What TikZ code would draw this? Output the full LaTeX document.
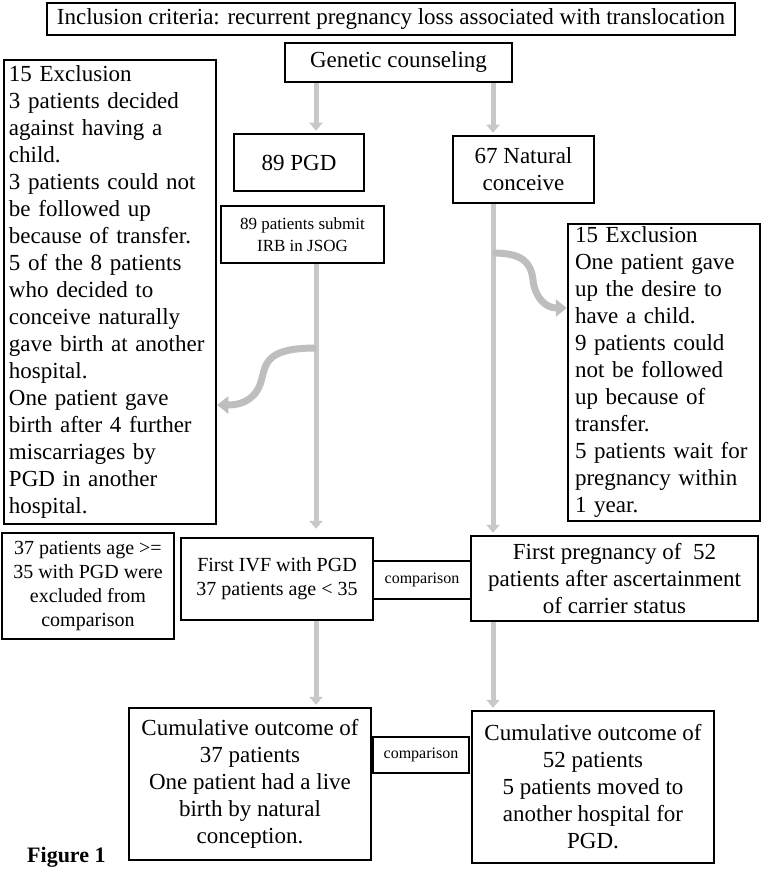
\documentclass[tikz,border=0pt]{standalone}
\usepackage{fontspec}
\setmainfont{Liberation Serif}
\usetikzlibrary{arrows.meta,positioning}
\definecolor{arrowgray}{RGB}{200,200,200}

\begin{document}
\begin{tikzpicture}[x=1pt, y=-1pt]
\tikzset{
    mybox/.style={rectangle, draw=black, line width=2.5pt, inner sep=0pt, align=center, font=\fontsize{23}{27}\selectfont},
    midbox/.style={mybox, font=\fontsize{20}{24}\selectfont},
    compbox/.style={mybox, font=\fontsize{16}{19}\selectfont},
    exclbox/.style={mybox, align=left, inner xsep=5pt},
    grayarrow/.style={draw=arrowgray, line width=5pt, -{Triangle[width=13pt,length=8pt]}, shorten >=2pt},
    curvearrow/.style={draw=arrowgray!95!black, line width=7pt, -{Triangle[width=17pt,length=11pt]}}
}
\useasboundingbox (0,0) rectangle (764,869);

\node[mybox, minimum width=688, minimum height=32] (inclusion) at (391,19) {Inclusion criteria: recurrent pregnancy loss associated with translocation};
\node[mybox, minimum width=227, minimum height=39] (counseling) at (398.5,62.5) {Genetic counseling};
\node[exclbox, text width=202, minimum height=464] (exclPGD) at (110,292) {15 Exclusion\\3 patients decided\\against having a\\child.\\3 patients could not\\be followed up\\because of transfer.\\5 of the 8 patients\\who decided to\\conceive naturally\\gave birth at another\\hospital.\\One patient gave\\birth after 4 further\\miscarriages by\\PGD in another\\hospital.};
\node[mybox, minimum width=130, minimum height=57] (pgd) at (299,162.5) {89 PGD};
\node[mybox, minimum width=141, minimum height=67] (natural) at (523.5,169.5) {67 Natural\\conceive};
\node[mybox, font=\fontsize{17}{22}\selectfont, minimum width=163, minimum height=57] (irb) at (302.5,234.5) {89 patients submit\\IRB in JSOG};
\node[exclbox, inner xsep=7pt, text width=178, minimum height=297] (exclNat) at (664,372.5) {15 Exclusion\\One patient gave\\up the desire to\\have a child.\\9 patients could\\not be followed\\up because of\\transfer.\\5 patients wait for\\pregnancy within\\1 year.};

% comparison row
\node[midbox, minimum width=172, minimum height=106] (older) at (88,586) {37 patients age >=\\35 with PGD were\\excluded from\\comparison};
\node[midbox, minimum width=192, minimum height=82] (ivf) at (277,579) {First IVF with PGD\\37 patients age < 35};
\node[compbox, minimum width=98, minimum height=38] (comp1) at (422,580) {comparison};
\node[mybox, minimum width=287, minimum height=85] (firstpreg) at (614.5,578.5) {First pregnancy of\ \ 52\\patients after ascertainment\\of carrier status};

% outcome row
\node[mybox, minimum width=242, minimum height=152] (cumPGD) at (250,784) {Cumulative outcome of\\37 patients\\One patient had a live\\birth by natural\\conception.};
\node[compbox, minimum width=96, minimum height=36] (comp2) at (421,755) {comparison};
\node[mybox, minimum width=242, minimum height=152] (cumNat) at (593,787) {Cumulative outcome of\\52 patients\\5 patients moved to\\another hospital for\\PGD.};
\node[font=\fontsize{22}{26}\selectfont\bfseries, anchor=base west, inner sep=0pt] (figlabel) at (27,862) {Figure 1};

\coordinate (colL) at (316,0);
\coordinate (colR) at (493,0);
\coordinate (bendL) at (316,348);
\coordinate (bendR) at (493,253);
\coordinate (tipL) at (0,405);
\coordinate (tipR) at (0,308);

\draw[grayarrow] (counseling.south -| colL) -- (pgd.north -| colL);
\draw[grayarrow] (counseling.south -| colR) -- (natural.north -| colR);
\draw[grayarrow, shorten >=8pt] (irb.south -| colL) -- (ivf.north -| colL);
\draw[grayarrow] (natural.south -| colR) -- (firstpreg.north -| colR);
\draw[grayarrow] (ivf.south -| colL) -- (cumPGD.north -| colL);
\draw[grayarrow] (firstpreg.south -| colR) -- (cumNat.north -| colR);
% the two bent arrows leave the main lines towards the exclusion boxes
\draw[curvearrow] (bendL) .. controls (268,348) and (266,362) .. (262,378) .. controls (258,396) and (246,405) .. (exclPGD.east |- tipL);
\draw[curvearrow] (bendR) .. controls (522,253) and (531,262) .. (533,280) .. controls (535,298) and (546,308) .. (exclNat.west |- tipR);

\end{tikzpicture}
\end{document}
